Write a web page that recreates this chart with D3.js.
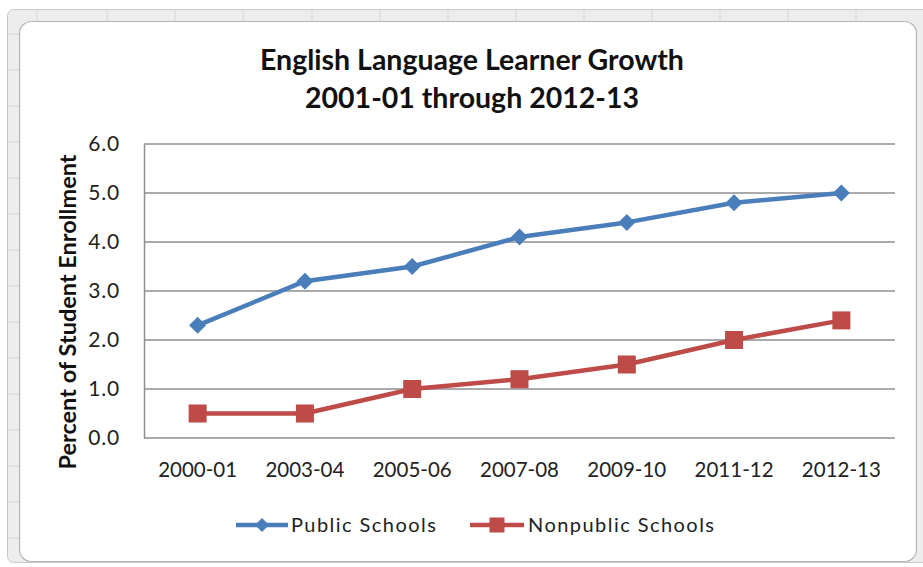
<!DOCTYPE html>
<html>
<head>
<meta charset="utf-8">
<script src="https://cdn.jsdelivr.net/npm/d3@7"></script>
<style>
  html, body { margin: 0; padding: 0; background: #ffffff; }
  svg { display: block; }
  text { font-family: Lato, "Open Sans", "Liberation Sans", sans-serif; }
</style>
</head>
<body>
<svg id="chart" width="923" height="567"></svg>
<script>
// School years on the horizontal axis
const years = ["2000-01", "2003-04", "2005-06", "2007-08", "2009-10", "2011-12", "2012-13"];
// Percent of student enrollment classified as English Language Learners
const publicSchools = [2.3, 3.2, 3.5, 4.1, 4.4, 4.8, 5.0];
const nonpublicSchools = [0.5, 0.5, 1.0, 1.2, 1.5, 2.0, 2.4];
const yTicks = [0, 1, 2, 3, 4, 5, 6];
const seriesNames = ["Public Schools", "Nonpublic Schools"];

const svg = d3.select("#chart");
const W = 923, H = 567;

// Spreadsheet frame behind the chart object
const frame = svg.append("g");
frame.append("rect").attr("x", 7.5).attr("y", 9.5).attr("width", W).attr("height", 553)
  .attr("rx", 6).attr("fill", "#ededed").attr("stroke", "#c9c9c9");
[37, 107, 175, 243, 312, 380, 448, 516, 584, 652, 720, 788, 856].forEach(x => {
  frame.append("line").attr("x1", x).attr("x2", x).attr("y1", 10).attr("y2", 21)
    .attr("stroke", "#d6d6d6");
});
[34, 70, 106, 142, 178, 214, 250, 286, 322, 358, 394, 430, 466, 502, 538].forEach(y => {
  frame.append("line").attr("x1", 8).attr("x2", 19).attr("y1", y).attr("y2", y)
    .attr("stroke", "#d6d6d6");
});
// Chart area with rounded corners
svg.append("rect").attr("x", 19.5).attr("y", 21.5).attr("width", 897).attr("height", 540)
  .attr("rx", 12).attr("fill", "#ffffff").attr("stroke", "#b5b5b5").attr("stroke-width", 1.2);

// Title
const title = svg.append("text").attr("text-anchor", "middle")
  .attr("font-weight", "bold").attr("font-size", 28.5).attr("fill", "#111");
title.append("tspan").attr("x", 472).attr("y", 70).text("English Language Learner Growth");
title.append("tspan").attr("x", 472).attr("y", 108).text("2001-01 through 2012-13");

// Plot area
const plot = { left: 144, right: 895, top: 144, bottom: 438 };

const x = d3.scaleBand().domain(years).range([plot.left, plot.right]);
const y = d3.scaleLinear().domain([0, 6]).range([plot.bottom, plot.top]);

// Horizontal gridlines
svg.append("g").selectAll("line").data(yTicks).join("line")
  .attr("x1", plot.left).attr("x2", plot.right)
  .attr("y1", d => y(d)).attr("y2", d => y(d))
  .attr("stroke", "#8e8e8e").attr("stroke-width", 1.5);

// Value axis
const yAxis = svg.append("g").attr("transform", `translate(${plot.left},0)`)
  .call(d3.axisLeft(y).tickValues(yTicks).tickFormat(d3.format(".1f")).tickSize(0).tickPadding(24));
yAxis.select(".domain").attr("stroke", "#8e8e8e").attr("stroke-width", 1.5);
yAxis.selectAll("text").attr("font-size", 21).attr("fill", "#222")
  .attr("letter-spacing", 0.8)
  .attr("font-family", "Lato, 'Open Sans', sans-serif");

// Category axis
const xAxis = svg.append("g").attr("transform", `translate(0,${plot.bottom})`)
  .call(d3.axisBottom(x).tickSize(0).tickPadding(24));
xAxis.select(".domain").remove();
xAxis.selectAll("text").attr("font-size", 20.5).attr("fill", "#222")
  .attr("font-family", "Lato, 'Open Sans', sans-serif");

// Axis title
svg.append("text").attr("transform", "translate(76,312) rotate(-90)")
  .attr("text-anchor", "middle").attr("font-weight", "bold").attr("font-size", 23.5)
  .attr("fill", "#111").text("Percent of Student Enrollment");

const cx = d => x(d) + x.bandwidth() / 2;
const line = d3.line().x(d => cx(d.year)).y(d => y(d.v));

const series = [
  { name: seriesNames[0], values: publicSchools, color: "#4a7ebb", marker: "diamond" },
  { name: seriesNames[1], values: nonpublicSchools, color: "#be4b48", marker: "square" }
];

const diamondPath = s => `M0,${-s}L${s},0L0,${s}L${-s},0Z`;
const squarePath = s => `M${-s},${-s}H${s}V${s}H${-s}Z`;

series.forEach(s => {
  const pts = years.map((yr, i) => ({ year: yr, v: s.values[i] }));
  svg.append("path").datum(pts).attr("d", line)
    .attr("fill", "none").attr("stroke", s.color).attr("stroke-width", 4.5)
    .attr("stroke-linejoin", "round");
  svg.append("g").selectAll("path").data(pts).join("path")
    .attr("transform", d => `translate(${cx(d.year)},${y(d.v)})`)
    .attr("d", s.marker === "diamond" ? diamondPath(8.5) : squarePath(9))
    .attr("fill", s.color);
});

// Legend
const legend = svg.append("g");
const legendItems = [
  { x: 236, w: 52, tx: 291 },
  { x: 470, w: 54, tx: 528 }
];
series.forEach((s, i) => {
  const it = legendItems[i];
  const g = legend.append("g");
  g.append("line").attr("x1", it.x).attr("x2", it.x + it.w).attr("y1", 525).attr("y2", 525)
    .attr("stroke", s.color).attr("stroke-width", 4.5);
  g.append("path").attr("transform", `translate(${it.x + it.w / 2},525)`)
    .attr("d", s.marker === "diamond" ? diamondPath(7) : squarePath(7.5)).attr("fill", s.color);
  g.append("text").attr("x", it.tx).attr("y", 532).attr("font-size", 20).attr("fill", "#222")
    .attr("letter-spacing", 1.45).text(s.name);
});
</script>
</body>
</html>
